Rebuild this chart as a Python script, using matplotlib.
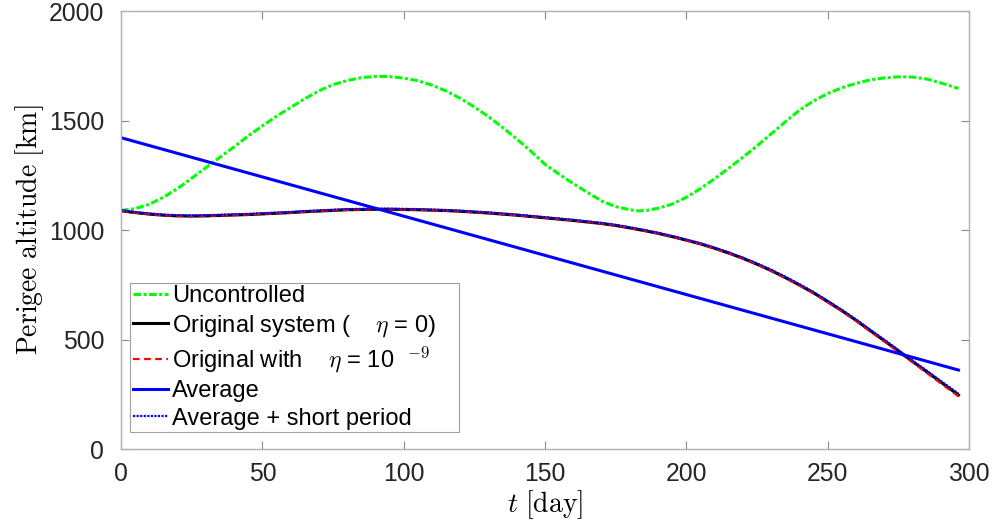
import matplotlib
matplotlib.use("Agg")
import matplotlib.pyplot as plt

# ---------------- data ----------------
t_unc = [0, 5, 10, 15, 20, 25, 30, 35, 40, 45, 50, 55, 60, 65, 70, 75, 80, 85, 90, 95,
         100, 105, 110, 115, 120, 125, 130, 135, 140, 145, 150, 155, 160, 165, 170, 175,
         180, 183, 186, 190, 195, 200, 205, 210, 215, 220, 225, 230, 235, 240, 245, 250,
         255, 260, 265, 270, 275, 280, 285, 290, 296.2]
h_unc = [1090, 1098, 1118, 1150, 1190, 1237, 1285, 1333, 1380, 1430, 1476, 1520, 1560, 1600,
         1636, 1664, 1683, 1696, 1702, 1701, 1694, 1682, 1662, 1635, 1602, 1562, 1518, 1468,
         1416, 1360, 1300, 1255, 1212, 1172, 1133, 1107, 1093, 1088, 1090, 1100, 1119, 1150,
         1190, 1235, 1283, 1333, 1385, 1440, 1495, 1548, 1590, 1624, 1650, 1670, 1686, 1695,
         1700, 1699, 1690, 1672, 1647]

t_orig = [0, 5, 10, 15, 20, 25, 30, 35, 40, 45, 50, 55, 60, 65, 70, 75, 80, 85, 90, 95,
          100, 105, 110, 115, 120, 125, 130, 135, 140, 145, 150, 155, 160, 165, 170, 175,
          180, 185, 190, 195, 200, 205, 210, 215, 220, 225, 230, 235, 240, 245, 250, 255,
          260, 265, 270, 275, 280, 285, 290, 296.2]
h_orig = [1088, 1080, 1073, 1068, 1065, 1064, 1065, 1067, 1069, 1071, 1074, 1077, 1080, 1084,
          1087, 1090, 1093, 1094, 1095, 1095, 1094, 1093, 1091, 1089, 1086, 1082, 1078, 1073,
          1068, 1062, 1056, 1050, 1044, 1037, 1030, 1021, 1010, 998, 985, 970, 954, 937, 917,
          895, 871, 844, 815, 783, 749, 713, 673, 632, 588, 541, 495, 448, 400, 353, 306, 247]
h_eta = [1088, 1080, 1073, 1068, 1065, 1064, 1065, 1067, 1069, 1071, 1074, 1077, 1080, 1084,
         1087, 1090, 1093, 1094, 1095, 1095, 1094, 1093, 1091, 1089, 1086, 1082, 1078, 1073,
         1068, 1062, 1056, 1050, 1044, 1037, 1030, 1021, 1010, 998, 985, 970, 953, 936, 916,
         894, 870, 843, 813, 781, 747, 711, 670, 629, 585, 537, 491, 444, 396, 348, 300, 241]
h_short = [1091, 1083, 1076, 1071, 1068, 1067, 1068, 1070, 1072, 1074, 1077, 1080, 1083, 1087,
           1090, 1093, 1096, 1097, 1098, 1098, 1097, 1096, 1094, 1092, 1089, 1085, 1081, 1076,
           1071, 1065, 1059, 1053, 1047, 1040, 1033, 1024, 1013, 1001, 988, 973, 957, 940, 920,
           898, 874, 848, 819, 787, 753, 717, 677, 636, 592, 545, 499, 452, 404, 358, 311, 253]

t_avg = [0, 296.2]
h_avg = [1422, 361]

xticks = [0, 50, 100, 150, 200, 250, 300]
yticks = [0, 500, 1000, 1500, 2000]

labels = ["Uncontrolled",
          "Original system (    $\\eta$ = 0)    ",
          "Original with    $\\eta$ = 10  $^{\\mathsf{-9}}$",
          "Average",
          "Average + short period"]

# ---------------- style ----------------
plt.rcParams["font.family"] = ["Liberation Sans", "DejaVu Sans"]
plt.rcParams["mathtext.fontset"] = "cm"

fig = plt.figure(figsize=(9.92, 5.29), dpi=100)
ax = fig.add_axes([0.122, 0.151, 0.855, 0.828])

ax.plot(t_unc, h_unc, color="#00ff00", lw=2.2, linestyle=(0, (2.5, 0.8, 1, 0.8)), label=labels[0])
ax.plot(t_orig, h_orig, color="black", lw=2.2, label=labels[1])
ax.plot(t_orig, h_eta, color="#ff0000", lw=1.6, linestyle=(0, (3, 2)), label=labels[2])
ax.plot(t_avg, h_avg, color="#0000ff", lw=2.2, label=labels[3])
ax.plot(t_orig, h_short, color="#0000ff", lw=1.6, linestyle=(0, (1, 0.6)), label=labels[4])

ax.set_xlim(0, 300)
ax.set_ylim(0, 2000)
ax.set_xticks(xticks)
ax.set_yticks(yticks)
ax.tick_params(direction="in", length=6, width=0.8, color="#888888",
               labelsize=17.8, labelcolor="#262626", top=True, right=True)
ax.tick_params(axis="x", pad=9.5)
ax.tick_params(axis="y", pad=12)
for s in ax.spines.values():
    s.set_color("#b0b0b0")
    s.set_linewidth(1.0)

ax.set_xlabel(r"$t\ \mathrm{[day]}$", fontsize=20, labelpad=1)
ax.set_ylabel(r"$\mathrm{Perigee\ altitude\ [km]}$", fontsize=20, labelpad=2)

leg = ax.legend(loc="lower left", bbox_to_anchor=(0.011, 0.039), borderaxespad=0,
                fontsize=17, frameon=True, fancybox=False, edgecolor="#a0a0a0",
                handlelength=1.5, handletextpad=0.15, labelspacing=0.24,
                borderpad=0.1, framealpha=1)
leg.get_frame().set_linewidth(0.8)

fig.savefig("out.png", dpi=100)
